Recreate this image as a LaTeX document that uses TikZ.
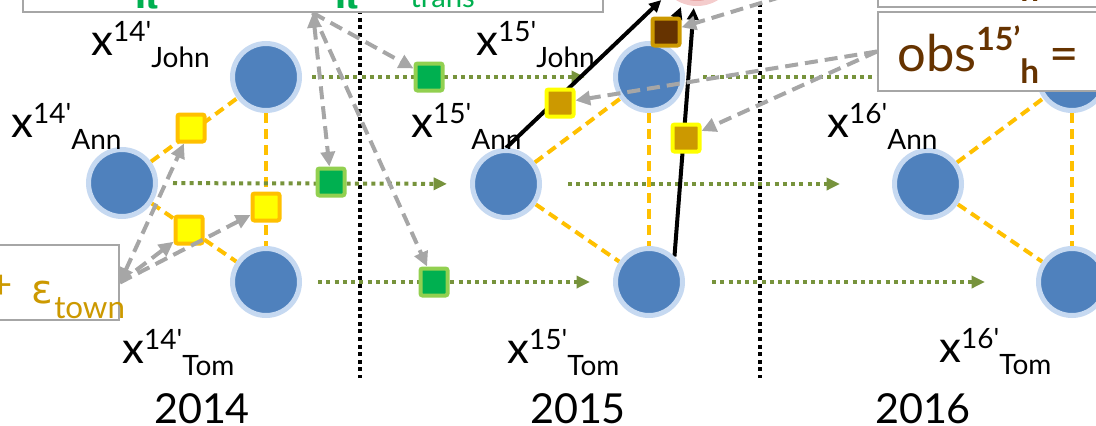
\documentclass[tikz,border=0pt]{standalone}
\usepackage{fontspec}
\setmainfont{Lato}
\newfontfamily\plainfont{Lato}[Ligatures=TeXOff]
\newfontfamily\greekfont{DejaVu Sans}
\usetikzlibrary{arrows.meta,fit}

\definecolor{nodeblue}{HTML}{4F81BD}
\definecolor{ringblue}{HTML}{C6D9F1}
\definecolor{potorange}{HTML}{FFC000}
\definecolor{potyellow}{HTML}{FFFF00}
\definecolor{obsgold}{HTML}{CC9900}
\definecolor{hbrown}{HTML}{663300}
\definecolor{tgreen}{HTML}{00B050}
\definecolor{tlight}{HTML}{92D050}
\definecolor{olivegreen}{HTML}{77933C}
\definecolor{linkgray}{HTML}{A6A6A6}
\definecolor{pinkfill}{HTML}{E9A3A3}
\definecolor{pinkring}{HTML}{F4CCCC}

\pgfdeclarelayer{back}
\pgfdeclarelayer{front}
\pgfsetlayers{back,main,front}

% variable label: x^{year}_{person}, superscript and subscript set one after the other
\newcommand\xlab[2]{{\plainfont\fontsize{33}{33}\selectfont x}{\plainfont\fontsize{21}{21}\selectfont\raisebox{10pt}{#1}\raisebox{-9pt}{#2}}}
% observation formula in the brown boxes
\newcommand\obstext[1]{{\fontsize{38}{38}\selectfont obs}\raisebox{15.75pt}{\fontsize{24}{24}\selectfont\bfseries #1}\raisebox{-9pt}{\fontsize{25}{25}\selectfont\bfseries h}\hspace{8pt}{\fontsize{38}{38}\selectfont =}}

\begin{document}
\begin{tikzpicture}[x=0.75pt,y=-0.75pt,
  person/.style={circle,fill=nodeblue,draw=ringblue,line width=3.75pt,minimum size=50.25pt,inner sep=0pt},
  obsnode/.style={circle,fill=pinkfill,draw=pinkring,line width=3.75pt,minimum size=56.25pt,inner sep=0pt},
  fsq/.style={rectangle,rounded corners=1.5pt,line width=3pt,minimum size=20.25pt,inner sep=0pt},
  ypot/.style={fsq,fill=potyellow,draw=potorange},
  opot/.style={fsq,fill=obsgold,draw=potyellow},
  hpot/.style={fsq,fill=hbrown,draw=obsgold},
  tpot/.style={fsq,fill=tgreen,draw=tlight},
  rel/.style={draw=potorange,line width=3pt,dash pattern=on 7.5pt off 4.5pt},
  trans/.style={draw=olivegreen,line width=3pt,dash pattern=on 3pt off 3.2pt,-{Triangle[length=10pt,width=9pt]}},
  sep/.style={draw=black,line width=3pt,dash pattern=on 3pt off 2.7pt},
  obsarrow/.style={draw=black,line width=3pt,-{Triangle[length=9pt,width=8.5pt]}},
  infoarrow/.style={draw=linkgray,line width=3pt,dash pattern=on 9.75pt off 5.25pt,-{Triangle[length=11pt,width=10.5pt]}},
  bothtips/.style={{Triangle[length=11pt,width=10.5pt]}-{Triangle[length=11pt,width=10.5pt]}},
  infobox/.style={draw=linkgray,fill=white,line width=1.5pt,inner sep=0pt},
  lab/.style={anchor=base west,inner sep=0pt},
  year/.style={anchor=base,inner sep=0pt,font=\fontsize{31}{31}\selectfont}]

\useasboundingbox (0,0) rectangle (1096,425);

% people in the three years
\node[person] (J14) at (266,77) {};
\node[person] (A14) at (122,183) {};
\node[person] (T14) at (266,282) {};
\node[person] (J15) at (649,77) {};
\node[person] (A15) at (506,184) {};
\node[person] (T15) at (649,282) {};
\node[person] (J16) at (1072,77) {};
\node[person] (A16) at (928,184) {};
\node[person] (T16) at (1072,282) {};
\node[obsnode] (O15) at (697,-34) {};

% factor squares
\node[ypot] (p1) at (191,128) {};
\node[ypot] (p2) at (189,230) {};
\node[ypot] (p3) at (266,207) {};
\node[tpot] (tJ) at (429,77) {};
\node[tpot] (tA) at (331,182) {};
\node[tpot] (tT) at (434,282) {};
\node[opot] (oA) at (560,103) {};
\node[opot] (oT) at (686,138) {};
\node[hpot] (hJ) at (666,32) {};

% formula boxes
\begin{pgfonlayer}{front}
\node[infobox,fit={(23,-90) (603,12)}] (tbox) {};
\node[infobox,fit={(-40,245) (119,320)}] (ebox) {};
\node[infobox,fit={(878,-72) (1180,7)}] (obox1) {};
\node[infobox,fit={(878,12) (1180,91)}] (obox2) {};
\node[lab,text=tgreen] (pi1) at (133,8) {\greekfont\bfseries\fontsize{25}{25}\selectfont π};
\node[lab,text=tgreen] (pi2) at (333,8) {\greekfont\bfseries\fontsize{25}{25}\selectfont π};
\node[lab,text=tgreen] (trn) at (410,7) {\fontsize{22}{22}\selectfont trans};
\node[anchor=base east,inner sep=0pt,text=obsgold] (plus) at (13,298) {\fontsize{30}{30}\selectfont +};
\node[lab,text=obsgold] (eps) at (31,303) {\greekfont\fontsize{30}{30}\selectfont ε};
\node[lab,text=obsgold] (town) at (54,318) {\fontsize{23.5}{23.5}\selectfont town};
\node[lab,text=hbrown] (obs14) at (897,-11) {\obstext{14’}};
\node[lab,text=hbrown] (obs15) at (897,71) {\obstext{15’}};
\end{pgfonlayer}

% variable labels
\node[lab] (lJ14) at (91,55) {\xlab{14'}{John}};
\node[lab] (lA14) at (11,137) {\xlab{14'}{Ann}};
\node[lab] (lT14) at (122,363) {\xlab{14'}{Tom}};
\node[lab] (lJ15) at (476,55) {\xlab{15'}{John}};
\node[lab] (lA15) at (411,137) {\xlab{15'}{Ann}};
\node[lab] (lT15) at (507,363) {\xlab{15'}{Tom}};
\node[lab] (lA16) at (827,137) {\xlab{16'}{Ann}};
\node[lab] (lT16) at (939,362) {\xlab{16'}{Tom}};

% years
\node[year] (y14) at (202,423) {2014};
\node[year] (y15) at (578,423) {2015};
\node[year] (y16) at (923,423) {2016};

\begin{pgfonlayer}{back}
% year separators
\coordinate (s1a) at (360,-5);
\coordinate (s1b) at (360,378);
\coordinate (s2a) at (760,-5);
\coordinate (s2b) at (760,378);
\draw[sep] (s1a) -- (s1b);
\draw[sep] (s2a) -- (s2b);
% social ties within each year
\draw[rel] (A14) -- (J14);
\draw[rel] (A14) -- (T14);
\draw[rel] (J14) -- (T14);
\draw[rel] (A15) -- (J15);
\draw[rel] (A15) -- (T15);
\draw[rel] (J15) -- (T15);
\draw[rel] (A16) -- (J16);
\draw[rel] (A16) -- (T16);
\draw[rel] (J16) -- (T16);
% transitions between years
\draw[trans,shorten <=7.5pt,shorten >=21pt] (J14) -- (J15);
\draw[trans,shorten <=11.25pt,shorten >=17.25pt] (A14) -- (A15);
\draw[trans,shorten <=12pt,shorten >=17.25pt] (T14) -- (T15);
\draw[trans,shorten <=13.5pt,shorten >=17pt] (J15) -- (J16);
\draw[trans,shorten <=19.5pt,shorten >=39pt] (A15) -- (A16);
\draw[trans,shorten <=20.25pt,shorten >=38.25pt] (T15) -- (T16);
% observation links
\draw[obsarrow,shorten >=7pt] (A15.north) -- (O15);
\draw[obsarrow,shorten >=3pt] (J15.62) -- (O15);
\draw[obsarrow,shorten >=1.5pt] (T15.45) -- (O15);
\end{pgfonlayer}

% links from the formula boxes to the factors
\draw[infoarrow,bothtips] (tbox.south) -- (tA);
\draw[infoarrow] (tbox.south) -- (tJ);
\draw[infoarrow] (tbox.south) -- (tT);
\draw[infoarrow,bothtips] (ebox.east) -- (p1);
\draw[infoarrow] (ebox.east) -- (p2);
\draw[infoarrow] (ebox.east) -- (p3);
\draw[infoarrow] (obox2.west) -- (oA);
\draw[infoarrow] (obox2.west) -- (oT);
\draw[infoarrow] (obox1.west) -- (hJ);
\end{tikzpicture}
\end{document}
